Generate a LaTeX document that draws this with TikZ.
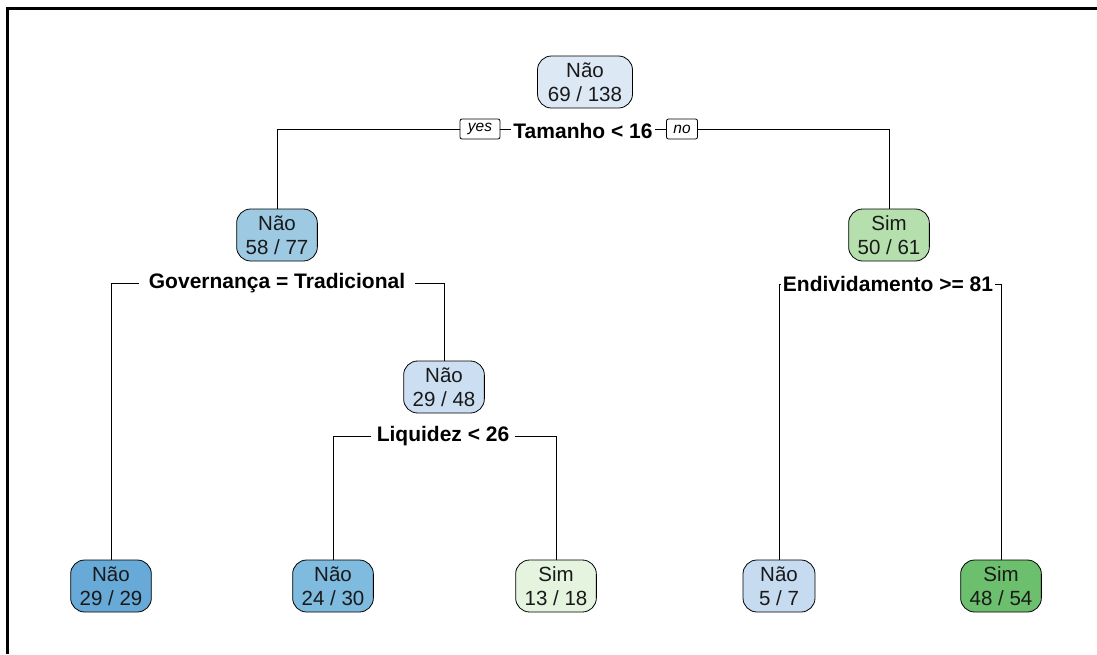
\documentclass[tikz,border=0pt]{standalone}
\usepackage{fontspec}
\setmainfont{Liberation Sans}
\usepackage{tikz}
\usetikzlibrary{positioning}
\definecolor{myroot}{RGB}{221,232,245}
\definecolor{mybluemid}{RGB}{157,201,226}
\definecolor{mybluelight}{RGB}{204,223,242}
\definecolor{mybluedark}{RGB}{103,170,216}
\definecolor{mybluedeep}{RGB}{127,186,223}
\definecolor{mybluepale}{RGB}{198,219,240}
\definecolor{mygreenmid}{RGB}{181,224,174}
\definecolor{mygreenpale}{RGB}{228,244,222}
\definecolor{mygreendark}{RGB}{108,191,108}

\begin{document}
\begin{tikzpicture}[
  x=1pt, y=-1pt,
  line width=0.8pt,
  mybox/.style={
    draw=black,
    fill=#1,
    rounded corners=14pt,
    minimum width=72pt,
    minimum height=52pt,
    inner xsep=9pt,
    align=center,
    text=black!90,
    font=\fontsize{20.5}{24}\selectfont
    },
  mycond/.style={
    inner xsep=#1,
    inner ysep=1pt,
    font=\fontsize{21}{24}\selectfont\bfseries
    },
  mytag/.style={
    draw=black,
    rounded corners=2pt,
    minimum height=20pt,
    inner xsep=3pt,
    inner ysep=0pt,
    font=\fontsize{15.5}{17}\selectfont\itshape
    }
]
\useasboundingbox (0,0) rectangle (1097,654);

% frame
\draw[line width=3pt] (7,654) -- (7,8) -- (1097,8);

% level 0
\node[mybox=myroot, minimum width=95pt] (root) at (585,82) {Não\\69 / 138};
\node[mycond=2pt] (tam) at (583,131) {Tamanho < 16};
\node[mytag, minimum width=40pt] (yes) at (480,129) {yes};
\node[mytag, minimum width=31pt] (no) at (682,129) {no};

% level 1
\node[mybox=mybluemid] (n58) at (277,235) {Não\\58 / 77};
\node[mybox=mygreenmid] (n50) at (889,235) {Sim\\50 / 61};
\node[mycond=10pt] (gov) at (277,283) {Governança = Tradicional};
\node[mycond=2pt] (endv) at (888,284) {Endividamento >= 81};

% level 2
\node[mybox=mybluelight] (n29) at (444,387) {Não\\29 / 48};
\node[mycond=5pt] (liq) at (443,436) {Liquidez < 26};

% leaves
\node[mybox=mybluedark] (leafa) at (111,586) {Não\\29 / 29};
\node[mybox=mybluedeep] (leafb) at (333,586) {Não\\24 / 30};
\node[mybox=mygreenpale] (leafc) at (556,586) {Sim\\13 / 18};
\node[mybox=mybluepale] (leafd) at (779,586) {Não\\5 / 7};
\node[mybox=mygreendark] (leafe) at (1001,586) {Sim\\48 / 54};

% connectors
\draw (yes) -- (yes -| tam.west);
\draw (tam.east |- no) -- (no);
\draw (yes.west) -| (n58.north);
\draw (no.east) -| (n50.north);
\draw (gov.west) -| (leafa.north);
\draw (gov.east) -| (n29.north);
\draw (liq.west) -| (leafb.north);
\draw (liq.east) -| (leafc.north);
\draw (endv.west) -| (leafd.north);
\draw (endv.east) -| (leafe.north);

\end{tikzpicture}
\end{document}
